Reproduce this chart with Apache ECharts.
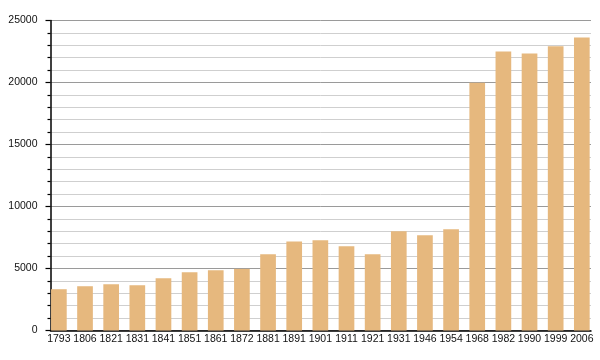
<!DOCTYPE html>
<html>
<head>
<meta charset="utf-8">
<script src="https://cdn.jsdelivr.net/npm/echarts@6/dist/echarts.min.js"></script>
<style>html,body{margin:0;padding:0;background:#fff;}#c{width:600px;height:360px;}</style>
</head>
<body>
<div id="c"></div>
<script>
const years = ['1793','1806','1821','1831','1841','1851','1861','1872','1881','1891','1901','1911','1921','1931','1946','1954','1968','1982','1990','1999','2006'];
const population = [3330,3570,3730,3650,4220,4700,4860,4970,6150,7180,7280,6800,6150,8000,7690,8170,19970,22500,22340,22930,23630];
const yMin = 0, yMax = 25000, yStep = 5000;

const chart = echarts.init(document.getElementById('c'), null, {renderer: 'canvas'});
const font = 'Liberation Sans, Arial, Helvetica, sans-serif';
chart.setOption({
  animation: false,
  backgroundColor: '#fff',
  grid: [
    {left: 45.8, right: 5.1, top: 20.5, bottom: 29.5},
    {left: 50.5, right: 9, top: 20.5, bottom: 29.5}
  ],
  xAxis: [
    {type: 'category', gridIndex: 0, data: years, boundaryGap: true,
     axisLine: {show: false}, axisTick: {show: false},
     axisLabel: {color: '#111', fontSize: 10.5, fontFamily: font, margin: 3, interval: 0},
     splitLine: {show: false}},
    {type: 'category', gridIndex: 1, data: years, boundaryGap: true,
     axisLine: {show: true, lineStyle: {color: '#000', width: 1.5}},
     axisTick: {show: false}, axisLabel: {show: false}, splitLine: {show: false}}
  ],
  yAxis: [
    {type: 'value', gridIndex: 0, min: yMin, max: yMax, interval: yStep, show: false,
     splitLine: {show: false}},
    {type: 'value', gridIndex: 1, min: yMin, max: yMax, interval: yStep,
     axisLine: {show: true, lineStyle: {color: '#000', width: 1.5}},
     axisTick: {show: true, length: 5, lineStyle: {color: '#000', width: 1.2}},
     minorTick: {show: true, splitNumber: 5, length: 3, lineStyle: {color: '#000', width: 1.2}},
     axisLabel: {color: '#111', fontSize: 10.5, fontFamily: font, margin: 13,
                 formatter: function (v) { return String(v); }},
     splitLine: {show: true, lineStyle: {color: '#9a9a9a', width: 1}},
     minorSplitLine: {show: true, lineStyle: {color: '#cfcfcf', width: 1}}}
  ],
  series: [{
    type: 'bar', xAxisIndex: 0, yAxisIndex: 0, data: population,
    barWidth: '60%', z: 5,
    itemStyle: {color: '#e6b87e'}
  }]
});
</script>
</body>
</html>
